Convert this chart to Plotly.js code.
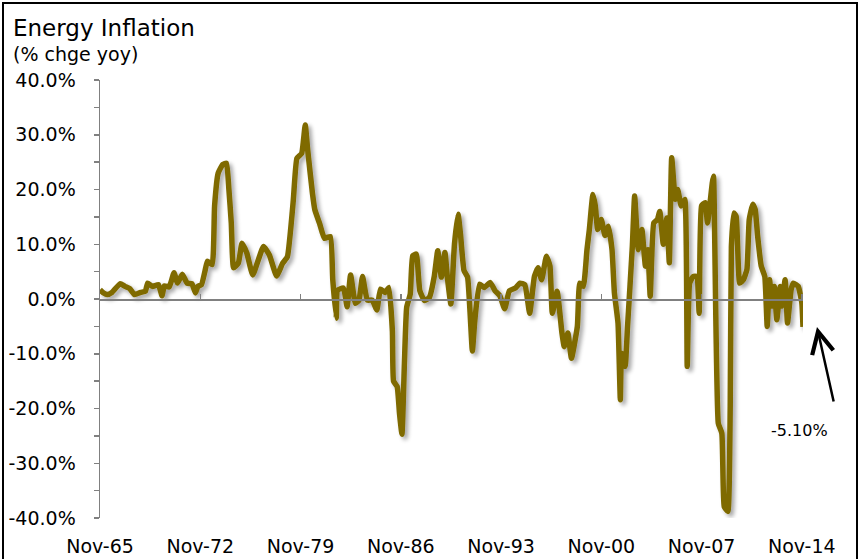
<!DOCTYPE html>
<html>
<head>
<meta charset="utf-8">
<script src="https://cdn.plot.ly/plotly-3.0.1.min.js"></script>
<style>
  html, body { margin: 0; padding: 0; background: #fff; overflow: hidden; }
  #wrap { position: relative; width: 858px; height: 559px; }
  #chart { position: absolute; left: 0; top: 0; width: 858px; height: 559px; }
  #frame { position: absolute; left: 2px; top: 2px; width: 852px; height: 600px;
           border: 2px solid #000; border-bottom: none; pointer-events: none; }
</style>
</head>
<body>
<div id="wrap">
  <div id="chart"></div>
  <div id="frame"></div>
</div>
<script>
const dates = [
  '1965-11','1966-02','1966-05','1966-09','1967-04','1967-08','1967-12','1968-04','1968-09','1969-01',
  '1969-03','1969-07','1969-12','1970-03','1970-05','1970-09','1971-01','1971-04','1971-08','1971-12',
  '1972-04','1972-07','1972-09','1972-12','1973-03','1973-05','1973-09','1973-11','1974-02','1974-06',
  '1974-09','1974-11','1975-01','1975-03','1975-07','1975-10','1976-02','1976-07','1977-04','1977-09',
  '1978-03','1978-08','1978-12','1979-05','1979-08','1979-12','1980-03','1980-05','1980-09','1980-11',
  '1981-03','1981-07','1981-12','1982-02','1982-05','1982-06','1982-11','1983-02','1983-05','1983-09',
  '1983-12','1984-03','1984-07','1984-11','1985-03','1985-06','1985-10','1986-01','1986-04','1986-05',
  '1986-08','1986-10','1986-12','1987-02','1987-04','1987-07','1987-09','1987-12','1988-03','1988-07',
  '1988-11','1989-03','1989-06','1989-09','1989-12','1990-02','1990-05','1990-08','1990-11','1991-01',
  '1991-04','1991-07','1991-11','1992-01','1992-05','1992-09','1993-02','1993-06','1993-10','1994-02',
  '1994-06','1994-11','1995-03','1995-07','1995-11','1996-03','1996-06','1996-09','1997-01','1997-04',
  '1997-06','1997-10','1998-02','1998-04','1998-07','1998-10','1999-03','1999-05','1999-08','1999-11',
  '2000-01','2000-04','2000-06','2000-08','2000-11','2001-02','2001-05','2001-08','2001-10','2002-01',
  '2002-03','2002-04','2002-07','2002-09','2003-01','2003-03','2003-06','2003-09','2003-12','2004-02',
  '2004-04','2004-07','2004-10','2004-12','2005-03','2005-06','2005-08','2005-10','2006-01','2006-03',
  '2006-06','2006-09','2006-11','2007-01','2007-04','2007-07','2007-09','2007-11','2008-02','2008-04',
  '2008-08','2008-09','2009-01','2009-04','2009-06','2009-09','2009-11','2009-12','2010-02','2010-04',
  '2010-07','2010-10','2011-01','2011-03','2011-06','2011-08','2011-10','2012-01','2012-04','2012-06',
  '2012-08','2012-10','2012-12','2013-02','2013-05','2013-06','2013-09','2013-11','2014-02','2014-04',
  '2014-08','2014-11','2014-12'
];
const energyInflation = [
  1.7, 1.1, 0.8, 1.2, 2.8, 2.3, 1.9, 0.8, 1.2, 1.4,
  2.9, 2.3, 2.6, 0.6, 2.4, 2.2, 4.8, 2.9, 4.5, 2.9,
  2.8, 1.1, 2.3, 2.6, 5.1, 6.9, 6.3, 17, 23, 24.6,
  24.8, 20, 13.9, 5.7, 6.6, 10.2, 8.4, 4.4, 9.6, 8.0,
  4.2, 6.5, 7.7, 18, 25.7, 26.6, 31.8, 27.3, 19.3, 16.3,
  13.8, 11.1, 11.4, 3.5, -3.5, 1.6, 2.0, -1.4, 4.4, -0.8,
  -0.2, 4.1, -0.2, -0.2, -2.0, 1.8, 1.2, 2.1, -5.8, -15,
  -16, -21, -24.7, -11.9, -1.5, 0.9, 7.9, 8.2, 1.5, -0.3,
  0.3, 4.0, 8.8, 4.0, 8.5, 4.0, -0.9, 10, 15.5, 11.9,
  5.2, 4.0, -9.5, -4.0, 2.7, 2.1, 3.0, 1.5, 0.6, -1.8,
  1.5, 2.0, 2.9, 2.6, -2.6, 4.1, 5.7, 3.5, 7.8, 6.0,
  -2.6, 1.4, -6.2, -8.7, -6.2, -10.8, -5.0, 2.9, 2.3, 9.0,
  12.7, 19.1, 17, 12.7, 14.5, 11.6, 13.3, 9.0, 1.1, -4.4,
  -18.4, -9.9, -12.3, -5.0, 9.6, 18.8, 9.0, 12.7, 6.0, 9.0,
  0.5, 13.9, 14.5, 16, 10, 14.8, 6.6, 25.8, 18.2, 20,
  17, 18.2, -12.3, 2.9, 4.1, 4.1, -2.6, 17, 17.6, 13.9,
  21.2, 22.4, -22.7, -24.5, -37.9, -38.8, -19.6, 9.6, 15.7, 15.1,
  2.9, 3.5, 5.4, 14.5, 17.3, 16.3, 11.5, 6.0, 4.1, -5.0,
  3.5, -1.3, 2.3, -3.8, 2.3, -1.3, 3.5, -4.4, 1.7, 2.9,
  2.3, -0.7, -5.1
];
const xTickVals = ['1965-11-01','1972-11-01','1979-11-01','1986-11-01','1993-11-01','2000-11-01','2007-11-01','2014-11-01'];
const xTickText = ['Nov-65','Nov-72','Nov-79','Nov-86','Nov-93','Nov-00','Nov-07','Nov-14'];
const yTickVals = [-40,-35,-30,-25,-20,-15,-10,-5,0,5,10,15,20,25,30,35,40];
const yTickText = ['-40.0%','','-30.0%','','-20.0%','','-10.0%','','0.0%','','10.0%','','20.0%','','30.0%','','40.0%'];
const lastLabel = '-5.10%';

const FONT = 'DejaVu Sans, Liberation Sans, Arial, sans-serif';
const xRange = ['1965-11-01', '2014-12-01'];

const traces = [
  {
    x: dates, y: energyInflation, type: 'scatter', mode: 'lines',
    line: { color: '#7f6a00', width: 5.5, shape: 'spline', smoothing: 0.4 },
    xaxis: 'x', yaxis: 'y', hoverinfo: 'skip', showlegend: false
  },
  {
    x: dates, y: energyInflation, type: 'scatter', mode: 'lines',
    line: { color: 'rgba(0,0,0,0)', width: 0 },
    xaxis: 'x2', yaxis: 'y', hoverinfo: 'skip', showlegend: false
  }
];

const layout = {
  width: 858, height: 559,
  margin: { l: 100, r: 55, t: 80, b: 41 },
  paper_bgcolor: '#fff', plot_bgcolor: '#fff',
  showlegend: false,
  font: { family: FONT, color: '#000', size: 19 },
  xaxis: {
    type: 'date', range: xRange,
    tickmode: 'array', tickvals: xTickVals, ticktext: xTickText,
    ticks: 'outside', ticklen: 11, tickcolor: 'rgba(0,0,0,0)',
    showgrid: false, zeroline: false, showline: false,
    tickfont: { family: FONT, size: 19, color: '#000' }
  },
  xaxis2: {
    type: 'date', overlaying: 'x', matches: 'x', anchor: 'free', position: 0.5,
    side: 'bottom',
    tickmode: 'array', tickvals: xTickVals,
    ticks: 'inside', ticklen: 5, tickwidth: 1.5, tickcolor: '#808080',
    showticklabels: false, showgrid: false, zeroline: false,
    showline: true, linecolor: '#808080', linewidth: 1.5
  },
  yaxis: {
    range: [-40, 40],
    tickmode: 'array', tickvals: yTickVals, ticktext: yTickText,
    ticks: 'outside', ticklen: 5, tickwidth: 1.5, tickcolor: '#808080',
    ticklabelstandoff: 14,
    showline: true, linecolor: '#808080', linewidth: 1.5,
    showgrid: false, zeroline: false,
    tickfont: { family: FONT, size: 19, color: '#000' }
  },
  annotations: [
    { text: 'Energy Inflation', xref: 'paper', yref: 'paper',
      x: -0.126, y: 1.1187, xanchor: 'left', yanchor: 'middle', showarrow: false,
      font: { family: FONT, size: 23, color: '#000' } },
    { text: '(% chge yoy)', xref: 'paper', yref: 'paper',
      x: -0.126, y: 1.0594, xanchor: 'left', yanchor: 'middle', showarrow: false,
      font: { family: FONT, size: 19, color: '#000' } },
    { text: '', xref: 'paper', yref: 'paper', x: 1.0199, y: 0.4361,
      showarrow: true, ax: 17, ay: 76, arrowhead: 5, arrowsize: 1.7, arrowwidth: 2.5,
      arrowcolor: '#000', standoff: 0 },
    { text: lastLabel, xref: 'paper', yref: 'paper', x: 0.9957, y: 0.2009,
      xanchor: 'center', yanchor: 'middle', showarrow: false,
      font: { family: FONT, size: 16, color: '#000' } }
  ]
};

Plotly.newPlot('chart', traces, layout, { displayModeBar: false, staticPlot: true }).then(function (gd) {
  const svg = gd.querySelector('svg.main-svg');
  const NS = 'http://www.w3.org/2000/svg';
  let defs = svg.querySelector('defs');
  if (!defs) { defs = document.createElementNS(NS, 'defs'); svg.insertBefore(defs, svg.firstChild); }
  const f = document.createElementNS(NS, 'filter');
  f.setAttribute('id', 'lineshadow');
  f.setAttribute('x', '-10%'); f.setAttribute('y', '-10%');
  f.setAttribute('width', '130%'); f.setAttribute('height', '130%');
  f.innerHTML = '<feGaussianBlur in="SourceAlpha" stdDeviation="2" result="b"/>' +
    '<feOffset in="b" dx="3" dy="3" result="o"/>' +
    '<feComponentTransfer in="o" result="s"><feFuncA type="linear" slope="0.35"/></feComponentTransfer>' +
    '<feMerge><feMergeNode in="s"/><feMergeNode in="SourceGraphic"/></feMerge>';
  defs.appendChild(f);
  const paths = gd.querySelectorAll('.scatterlayer .trace .js-line');
  if (paths.length) paths[0].setAttribute('filter', 'url(#lineshadow)');
});
</script>
</body>
</html>
